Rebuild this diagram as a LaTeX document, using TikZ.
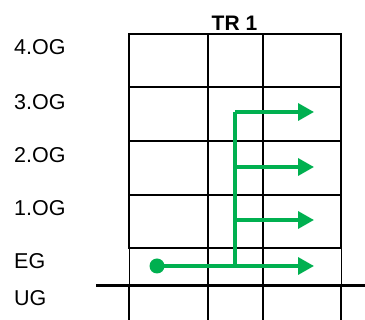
\documentclass[tikz,border=0pt]{standalone}
\usepackage{fontspec}
\setmainfont{Liberation Sans}
\usetikzlibrary{arrows.meta, positioning}
\definecolor{flowgreen}{HTML}{00B050}
\tikzset{
  wall/.style={line width=2pt},
  thinwall/.style={line width=0.7pt},
  groundline/.style={line width=3pt},
  floorlabel/.style={anchor=west, inner sep=0pt, font=\fontsize{21.5}{21.5}\selectfont},
  flow/.style={line width=3.4pt, draw=flowgreen, -{Triangle[length=16pt,width=17pt]}},
  flowline/.style={line width=3.4pt, draw=flowgreen}
}

\begin{document}
\begin{tikzpicture}[x=1pt, y=-1pt]
      \useasboundingbox (0,0) rectangle (365,320);
      \node[font=\fontsize{21}{21}\selectfont\bfseries] (title) at (234.5,23) {TR 1};
      % floors
      \draw[wall] (129,248) -- (129,34) -- (341,34) -- (341,248) -- cycle;
      \foreach \y in {87,141,195}
        \draw[wall] (129,\y) -- (341,\y);
      \foreach \x in {208,263}
        \draw[wall] (\x,34) -- (\x,320);
      \draw[thinwall] (129,248) -- (129,286);
      \draw[thinwall] (341,248) -- (341,286);
      \draw[wall] (129,286) -- (129,320);
      \draw[wall] (341,286) -- (341,320);
      \draw[groundline] (96,286) -- (365,286);
      % labels
      \foreach \name/\y in {4.OG/47.5, 3.OG/102, 2.OG/155.5, 1.OG/208.5, EG/261, UG/298}
        \node[floorlabel] (lbl-\name) at (14,\y) {\name};
      % flow
      \node[circle, fill=flowgreen, minimum size=15pt, inner sep=0pt] (dot) at (157,266) {};
      \coordinate (riser-top) at (235,112);
      \coordinate (riser-bot) at (235,266);
      \coordinate (tip0) at (314,266);
      \coordinate (tip1) at (314,220);
      \coordinate (tip2) at (314,167);
      \coordinate (tip3) at (314,112);
      \draw[flow] (dot.center) -- (tip0);
      \draw[flowline] (riser-bot) -- (riser-top);
      \draw[flow] (riser-top) -- (tip3);
      \draw[flow] (235,167) -- (tip2);
      \draw[flow] (235,220) -- (tip1);
    \end{tikzpicture}
\end{document}
